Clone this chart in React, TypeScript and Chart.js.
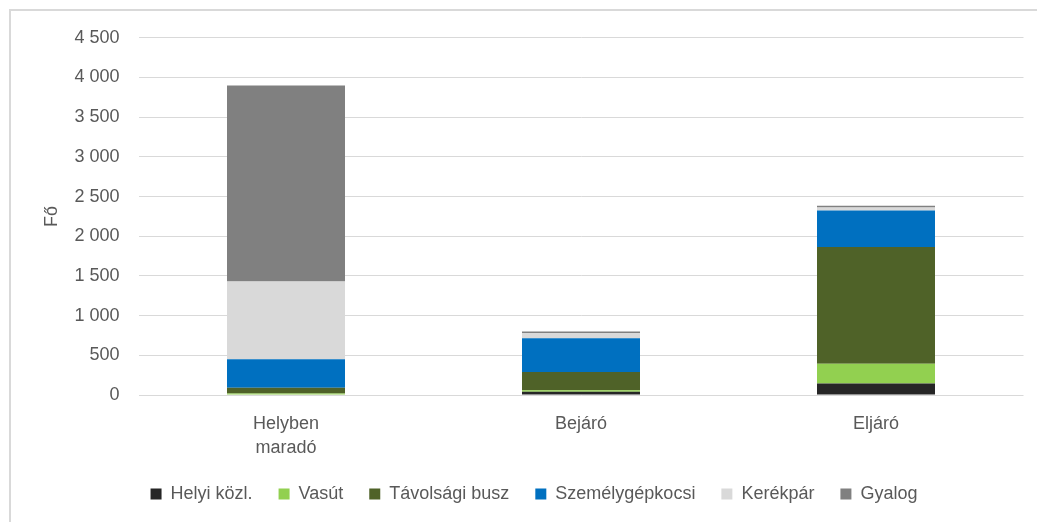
import React, { useEffect, useRef } from "react";
import { Chart, registerables } from "chart.js";

Chart.register(...registerables);

const categories: (string | string[])[] = [["Helyben", "maradó"], "Bejáró", "Eljáró"];
const seriesNames = ["Helyi közl.", "Vasút", "Távolsági busz", "Személygépkocsi", "Kerékpár", "Gyalog"];
const helyiKozl = [5, 40, 145];
const vasut = [15, 20, 250];
const tavolsagiBusz = [70, 230, 1470];
const szemelygepkocsi = [360, 425, 460];
const kerekpar = [980, 63, 37];
const gyalog = [2470, 21, 22];
const seriesColors = ["#262626", "#92D050", "#4F6228", "#0070C0", "#D9D9D9", "#808080"];
const yMin = 0;
const yMax = 4500;
const yStep = 500;
const yTitle = "Fő";

const FONT = "'Liberation Sans', Arial, sans-serif";
const TEXT = "#595959";

function fmt(v: number): string {
  const s = Math.round(v).toString();
  return s.replace(/\B(?=(\d{3})+(?!\d))/g, " ");
}

export default function App() {
  const ref = useRef<HTMLCanvasElement | null>(null);
  useEffect(() => {
    document.documentElement.style.overflow = "hidden";
    const values = [helyiKozl, vasut, tavolsagiBusz, szemelygepkocsi, kerekpar, gyalog];
    const chart = new Chart(ref.current as HTMLCanvasElement, {
      type: "bar",
      data: {
        labels: categories,
        datasets: seriesNames.map((name, i) => ({
          label: name,
          data: values[i],
          backgroundColor: seriesColors[i],
          borderWidth: 0,
          categoryPercentage: 1,
          barPercentage: 0.4,
        })),
      },
      options: {
        animation: false,
        responsive: false,
        maintainAspectRatio: false,
        layout: { padding: { left: 36.5, right: 21.5, top: 27, bottom: 9 } },
        plugins: {
          tooltip: { enabled: false },
          legend: {
            position: "bottom",
            labels: {
              boxWidth: 11,
              boxHeight: 11,
              padding: 26,
              color: TEXT,
              font: { family: FONT, size: 18 },
            },
          },
        },
        scales: {
          x: {
            stacked: true,
            grid: { display: false, drawTicks: false },
            border: { display: false },
            ticks: { color: TEXT, padding: 18, font: { family: FONT, size: 18, lineHeight: 1.28 } },
            afterFit: (s: any) => { s.height = 64; },
          },
          y: {
            stacked: true,
            min: yMin,
            max: yMax,
            grid: { color: "#d9d9d9", lineWidth: 1, drawTicks: false },
            border: { display: false },
            ticks: {
              stepSize: yStep,
              color: TEXT,
              padding: 19,
              font: { family: FONT, size: 18 },
              callback: (v: any) => fmt(Number(v)),
            },
            title: {
              display: true,
              text: yTitle,
              color: TEXT,
              font: { family: FONT, size: 18, lineHeight: 1.2 },
              padding: { top: -3.3, bottom: 0 },
            },
            afterFit: (s: any) => { s.width = 94; },
          },
        },
      },
    } as any);
    return () => chart.destroy();
  }, []);
  return (
    <div style={{ position: "relative", width: 1037, height: 514 }}>
      <div
        style={{
          position: "absolute",
          left: 1,
          top: 1,
          width: 1100,
          height: 600,
          borderTop: "2px solid #d9d9d9",
          borderLeft: "2px solid #d9d9d9",
        }}
      />
      <canvas ref={ref} width={1037} height={514} style={{ position: "absolute", left: 0, top: 0 }} />
    </div>
  );
}
